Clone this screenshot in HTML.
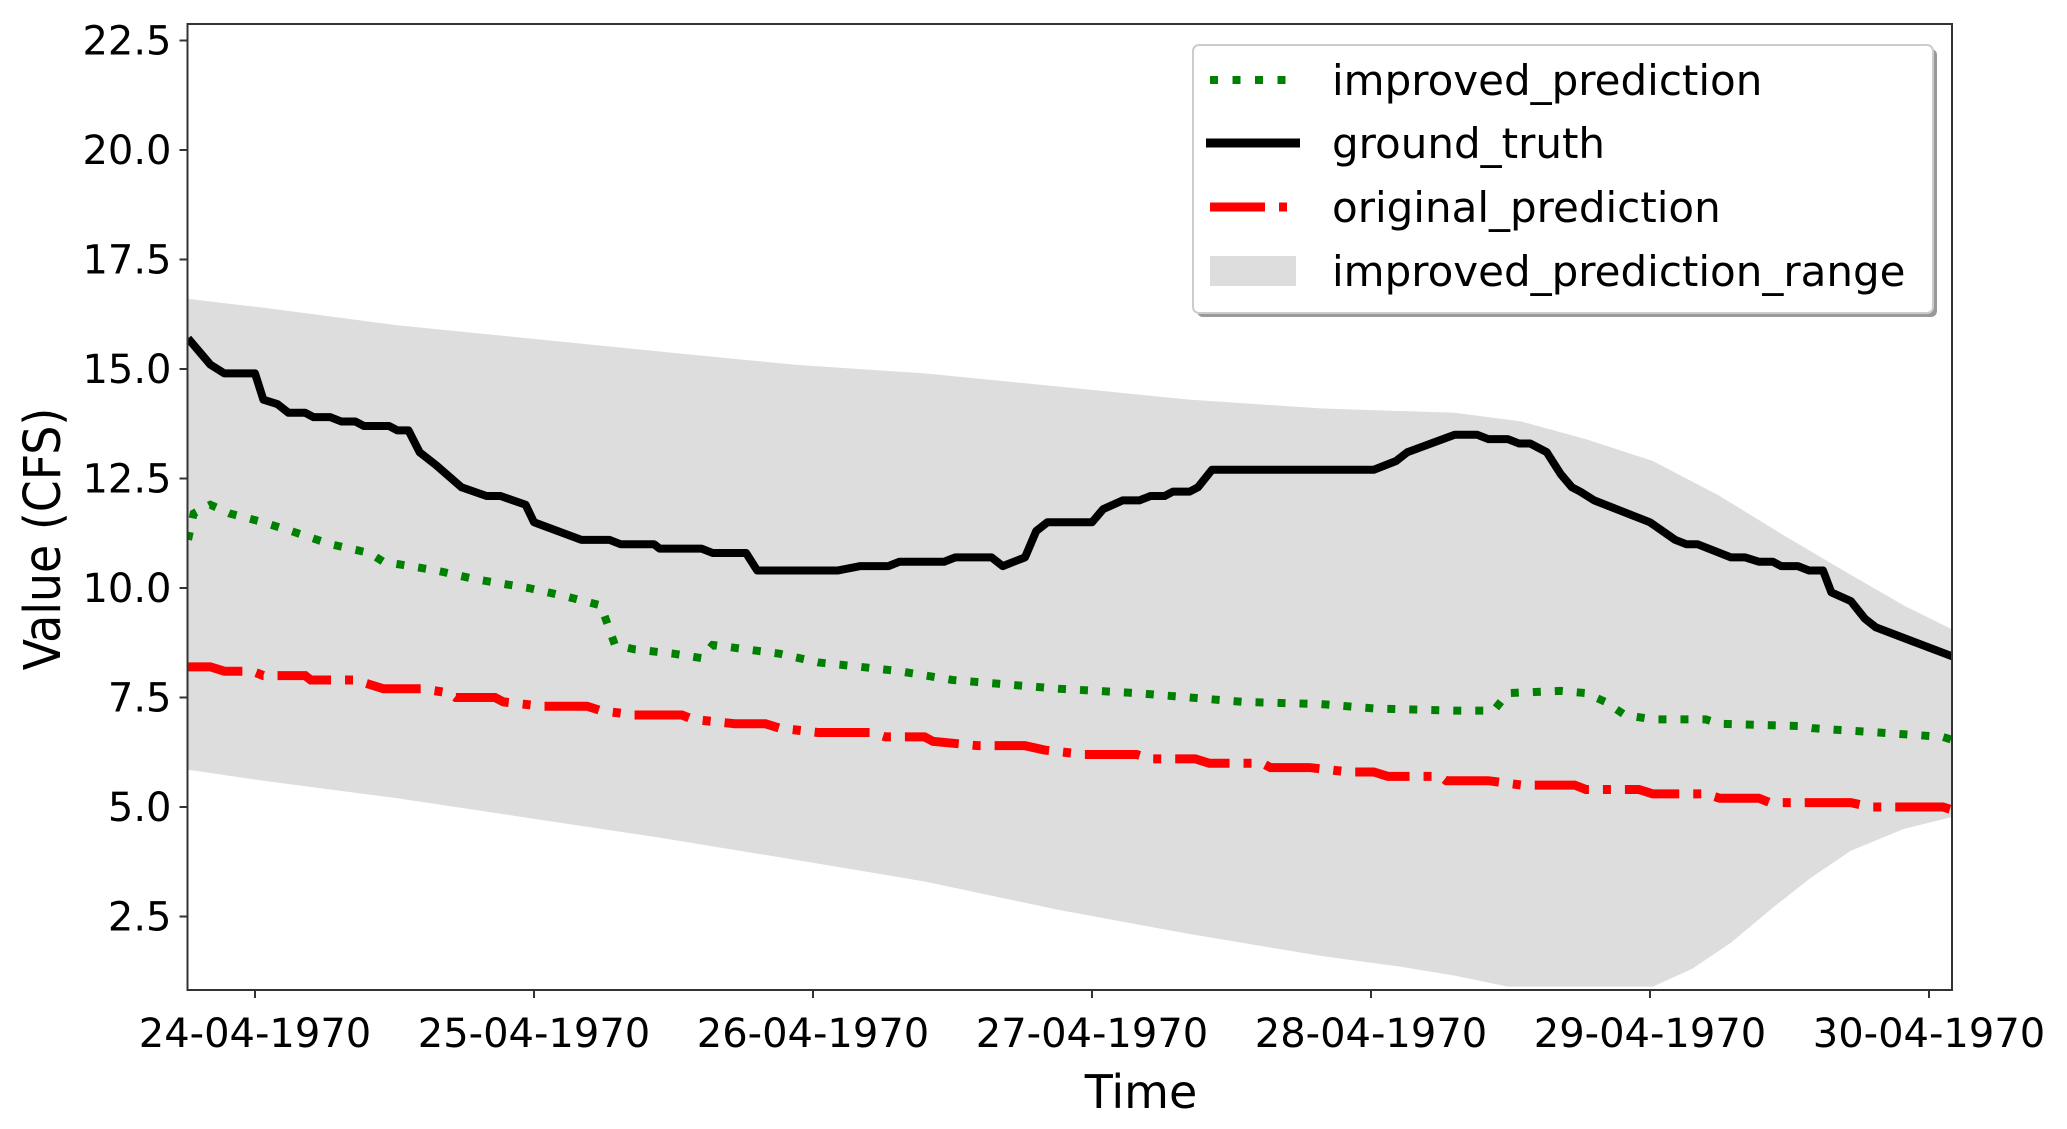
<!DOCTYPE html>
<html><head><meta charset="utf-8"><style>
html,body{margin:0;padding:0;background:#fff;}
svg{display:block;}
text{font-family:"DejaVu Sans","Liberation Sans",sans-serif;fill:#000;}
</style></head><body>
<svg id="chart" width="2067" height="1129" viewBox="0 0 2067 1129" xmlns="http://www.w3.org/2000/svg">
<g id="band"></g>
<g id="series"></g>
<g id="axes"></g>
<g id="legend"></g>
</svg>
<script>
// time in days relative to 24-04-1970 00:00
const gtT=[-0.24,-0.20,-0.16,-0.11,0.00,0.03,0.08,0.12,0.18,0.21,0.27,0.31,0.36,0.39,0.48,0.51,0.55,0.59,0.65,0.74,0.83,0.88,0.97,1.00,1.17,1.27,1.31,1.43,1.45,1.60,1.64,1.76,1.80,2.09,2.17,2.27,2.31,2.47,2.51,2.64,2.68,2.76,2.80,2.84,3.00,3.04,3.11,3.17,3.21,3.26,3.29,3.35,3.38,3.43,4.01,4.09,4.13,4.30,4.38,4.42,4.49,4.53,4.57,4.63,4.68,4.72,4.75,4.80,5.00,5.09,5.13,5.17,5.29,5.34,5.39,5.44,5.47,5.53,5.57,5.62,5.65,5.72,5.77,5.81,6.10];
const gtV=[15.7,15.4,15.1,14.9,14.9,14.3,14.2,14.0,14.0,13.9,13.9,13.8,13.8,13.7,13.7,13.6,13.6,13.1,12.8,12.3,12.1,12.1,11.9,11.5,11.1,11.1,11.0,11.0,10.9,10.9,10.8,10.8,10.4,10.4,10.5,10.5,10.6,10.6,10.7,10.7,10.5,10.7,11.3,11.5,11.5,11.8,12.0,12.0,12.1,12.1,12.2,12.2,12.3,12.7,12.7,12.9,13.1,13.5,13.5,13.4,13.4,13.3,13.3,13.1,12.6,12.3,12.2,12.0,11.5,11.1,11.0,11.0,10.7,10.7,10.6,10.6,10.5,10.5,10.4,10.4,9.9,9.7,9.3,9.1,8.4];
const ipT=[-0.24,-0.22,-0.16,-0.09,0.03,0.13,0.27,0.41,0.46,0.65,0.79,0.98,1.12,1.24,1.29,1.36,1.50,1.60,1.64,1.88,2.02,2.17,2.31,2.50,2.69,2.88,3.16,3.35,3.54,3.82,4.01,4.30,4.44,4.49,4.68,4.77,4.84,4.91,5.01,5.20,5.25,5.53,5.58,5.82,6.05,6.10];
const ipV=[11.1,11.7,11.9,11.7,11.5,11.3,11.0,10.8,10.6,10.4,10.2,10.0,9.8,9.6,8.7,8.6,8.5,8.4,8.7,8.5,8.3,8.2,8.1,7.9,7.8,7.7,7.6,7.5,7.4,7.35,7.25,7.2,7.2,7.6,7.65,7.6,7.4,7.1,7.0,7.0,6.9,6.85,6.8,6.7,6.6,6.5];
const opT=[-0.24,-0.16,-0.11,-0.01,0.03,0.18,0.20,0.36,0.41,0.46,0.60,0.70,0.72,0.86,0.89,1.03,1.19,1.24,1.36,1.53,1.57,1.72,1.83,1.88,2.02,2.21,2.26,2.40,2.43,2.59,2.76,2.83,2.97,3.16,3.21,3.37,3.42,3.61,3.64,3.78,3.92,4.01,4.06,4.25,4.27,4.42,4.54,4.73,4.77,4.96,5.01,5.20,5.25,5.39,5.43,5.72,5.79,6.05,6.10];
const opV=[8.2,8.2,8.1,8.1,8.0,8.0,7.9,7.9,7.8,7.7,7.7,7.6,7.5,7.5,7.4,7.3,7.3,7.2,7.1,7.1,7.0,6.9,6.9,6.8,6.7,6.7,6.6,6.6,6.5,6.4,6.4,6.3,6.2,6.2,6.1,6.1,6.0,6.0,5.9,5.9,5.8,5.8,5.7,5.7,5.6,5.6,5.5,5.5,5.4,5.4,5.3,5.3,5.2,5.2,5.1,5.1,5.0,5.0,4.9];
const upT=[-0.24,0.03,0.51,0.98,1.45,1.93,2.40,2.88,3.35,3.82,4.30,4.54,4.77,5.01,5.25,5.48,5.72,5.91,6.10];
const upV=[16.6,16.4,16.0,15.7,15.4,15.1,14.9,14.6,14.3,14.1,14.0,13.8,13.4,12.9,12.1,11.2,10.3,9.6,9.0];
const loT=[-0.24,0.03,0.51,0.98,1.45,1.93,2.40,2.88,3.35,3.82,4.11,4.30,4.49,5.01,5.15,5.29,5.44,5.58,5.72,5.91,6.10];
const loV=[5.85,5.6,5.2,4.75,4.3,3.8,3.3,2.65,2.1,1.6,1.35,1.15,0.9,0.9,1.3,1.9,2.7,3.4,4.0,4.5,4.8];
const yTicks=[2.5,5.0,7.5,10.0,12.5,15.0,17.5,20.0,22.5];
const xTicks=[0,1,2,3,4,5,6];
const xTickLabels=["24-04-1970","25-04-1970","26-04-1970","27-04-1970","28-04-1970","29-04-1970","30-04-1970"];
const legendLabels=["improved_prediction","ground_truth","original_prediction","improved_prediction_range"];

const NS="http://www.w3.org/2000/svg";
const L=187.5,R=1952,T=24,B=990;
const x=d=>255+d*279;
const y=v=>1026-v*43.8;
function mk(tag,parent,attrs){const e=document.createElementNS(NS,tag);for(const k in attrs)e.setAttribute(k,attrs[k]);parent.appendChild(e);return e;}
const svg=document.getElementById('chart');
const defs=mk('defs',svg,{});
const cp=mk('clipPath',defs,{id:'clip'});
mk('rect',cp,{x:L,y:T,width:R-L,height:B-T});
const band=document.getElementById('band');band.setAttribute('clip-path','url(#clip)');
const series=document.getElementById('series');series.setAttribute('clip-path','url(#clip)');

let d='M'+upT.map((t,i)=>x(t)+','+y(upV[i])).join('L');
for(let i=loT.length-1;i>=0;i--)d+='L'+x(loT[i])+','+y(loV[i]);
const bp=mk('path',band,{d:d+'Z',fill:'#dddddd'});



function line(ts,vs,attrs,name){const p=mk('path',series,Object.assign({d:'M'+ts.map((t,i)=>x(t)+','+y(vs[i])).join('L'),fill:'none'},attrs));

}
line(ipT,ipV,{stroke:'#008000','stroke-width':8,'stroke-dasharray':'8 14'},'improved-prediction-line');
line(gtT,gtV,{stroke:'#000','stroke-width':8,'stroke-linejoin':'round'},'ground-truth-line');
line(opT,opV,{stroke:'#ff0000','stroke-width':9,'stroke-dasharray':'55 14 8 14'},'original-prediction-line');

const ax=document.getElementById('axes');
const fr=mk('rect',ax,{x:L,y:T,width:R-L,height:B-T,fill:'none',stroke:'#333','stroke-width':2});


yTicks.forEach(v=>{mk('line',ax,{x1:L-8,x2:L,y1:y(v),y2:y(v),stroke:'#333','stroke-width':2});
const t=mk('text',ax,{x:L-16,y:y(v)+14,'text-anchor':'end','font-size':40});t.textContent=v.toFixed(1);

});
xTicks.forEach((v,i)=>{mk('line',ax,{x1:x(v),x2:x(v),y1:B,y2:B+8,stroke:'#333','stroke-width':2});
const t=mk('text',ax,{x:x(v),y:B+57,'text-anchor':'middle','font-size':40});t.textContent=xTickLabels[i];

});
const xt=mk('text',ax,{x:1141,y:1108,'text-anchor':'middle','font-size':46});xt.textContent='Time';


const yt=mk('text',ax,{x:0,y:0,'text-anchor':'middle','font-size':51,transform:'translate(60,539) rotate(-90)',style:'font-family:"DejaVu Sans Condensed","DejaVu Sans",sans-serif'});yt.textContent='Value (CFS)';



const lg=document.getElementById('legend');
mk('rect',lg,{x:1197,y:49,width:740,height:268,rx:6,fill:'#999'});
const lb=mk('rect',lg,{x:1193,y:45,width:740,height:268,rx:6,fill:'#fff',stroke:'#ccc','stroke-width':2});


const rows=[80,143,207,271];
mk('line',lg,{x1:1210,x2:1298,y1:rows[0],y2:rows[0],stroke:'#008000','stroke-width':8,'stroke-dasharray':'8 14.5'});
mk('line',lg,{x1:1206,x2:1300,y1:rows[1],y2:rows[1],stroke:'#000','stroke-width':9});
mk('line',lg,{x1:1210,x2:1298,y1:rows[2],y2:rows[2],stroke:'#ff0000','stroke-width':9,'stroke-dasharray':'55 14 8 14'});
mk('rect',lg,{x:1210,y:256,width:86,height:30,fill:'#dddddd'});
legendLabels.forEach((s,i)=>{const t=mk('text',lg,{x:1332,y:rows[i]+15,'font-size':42});t.textContent=s;

});
</script>
</body></html>
